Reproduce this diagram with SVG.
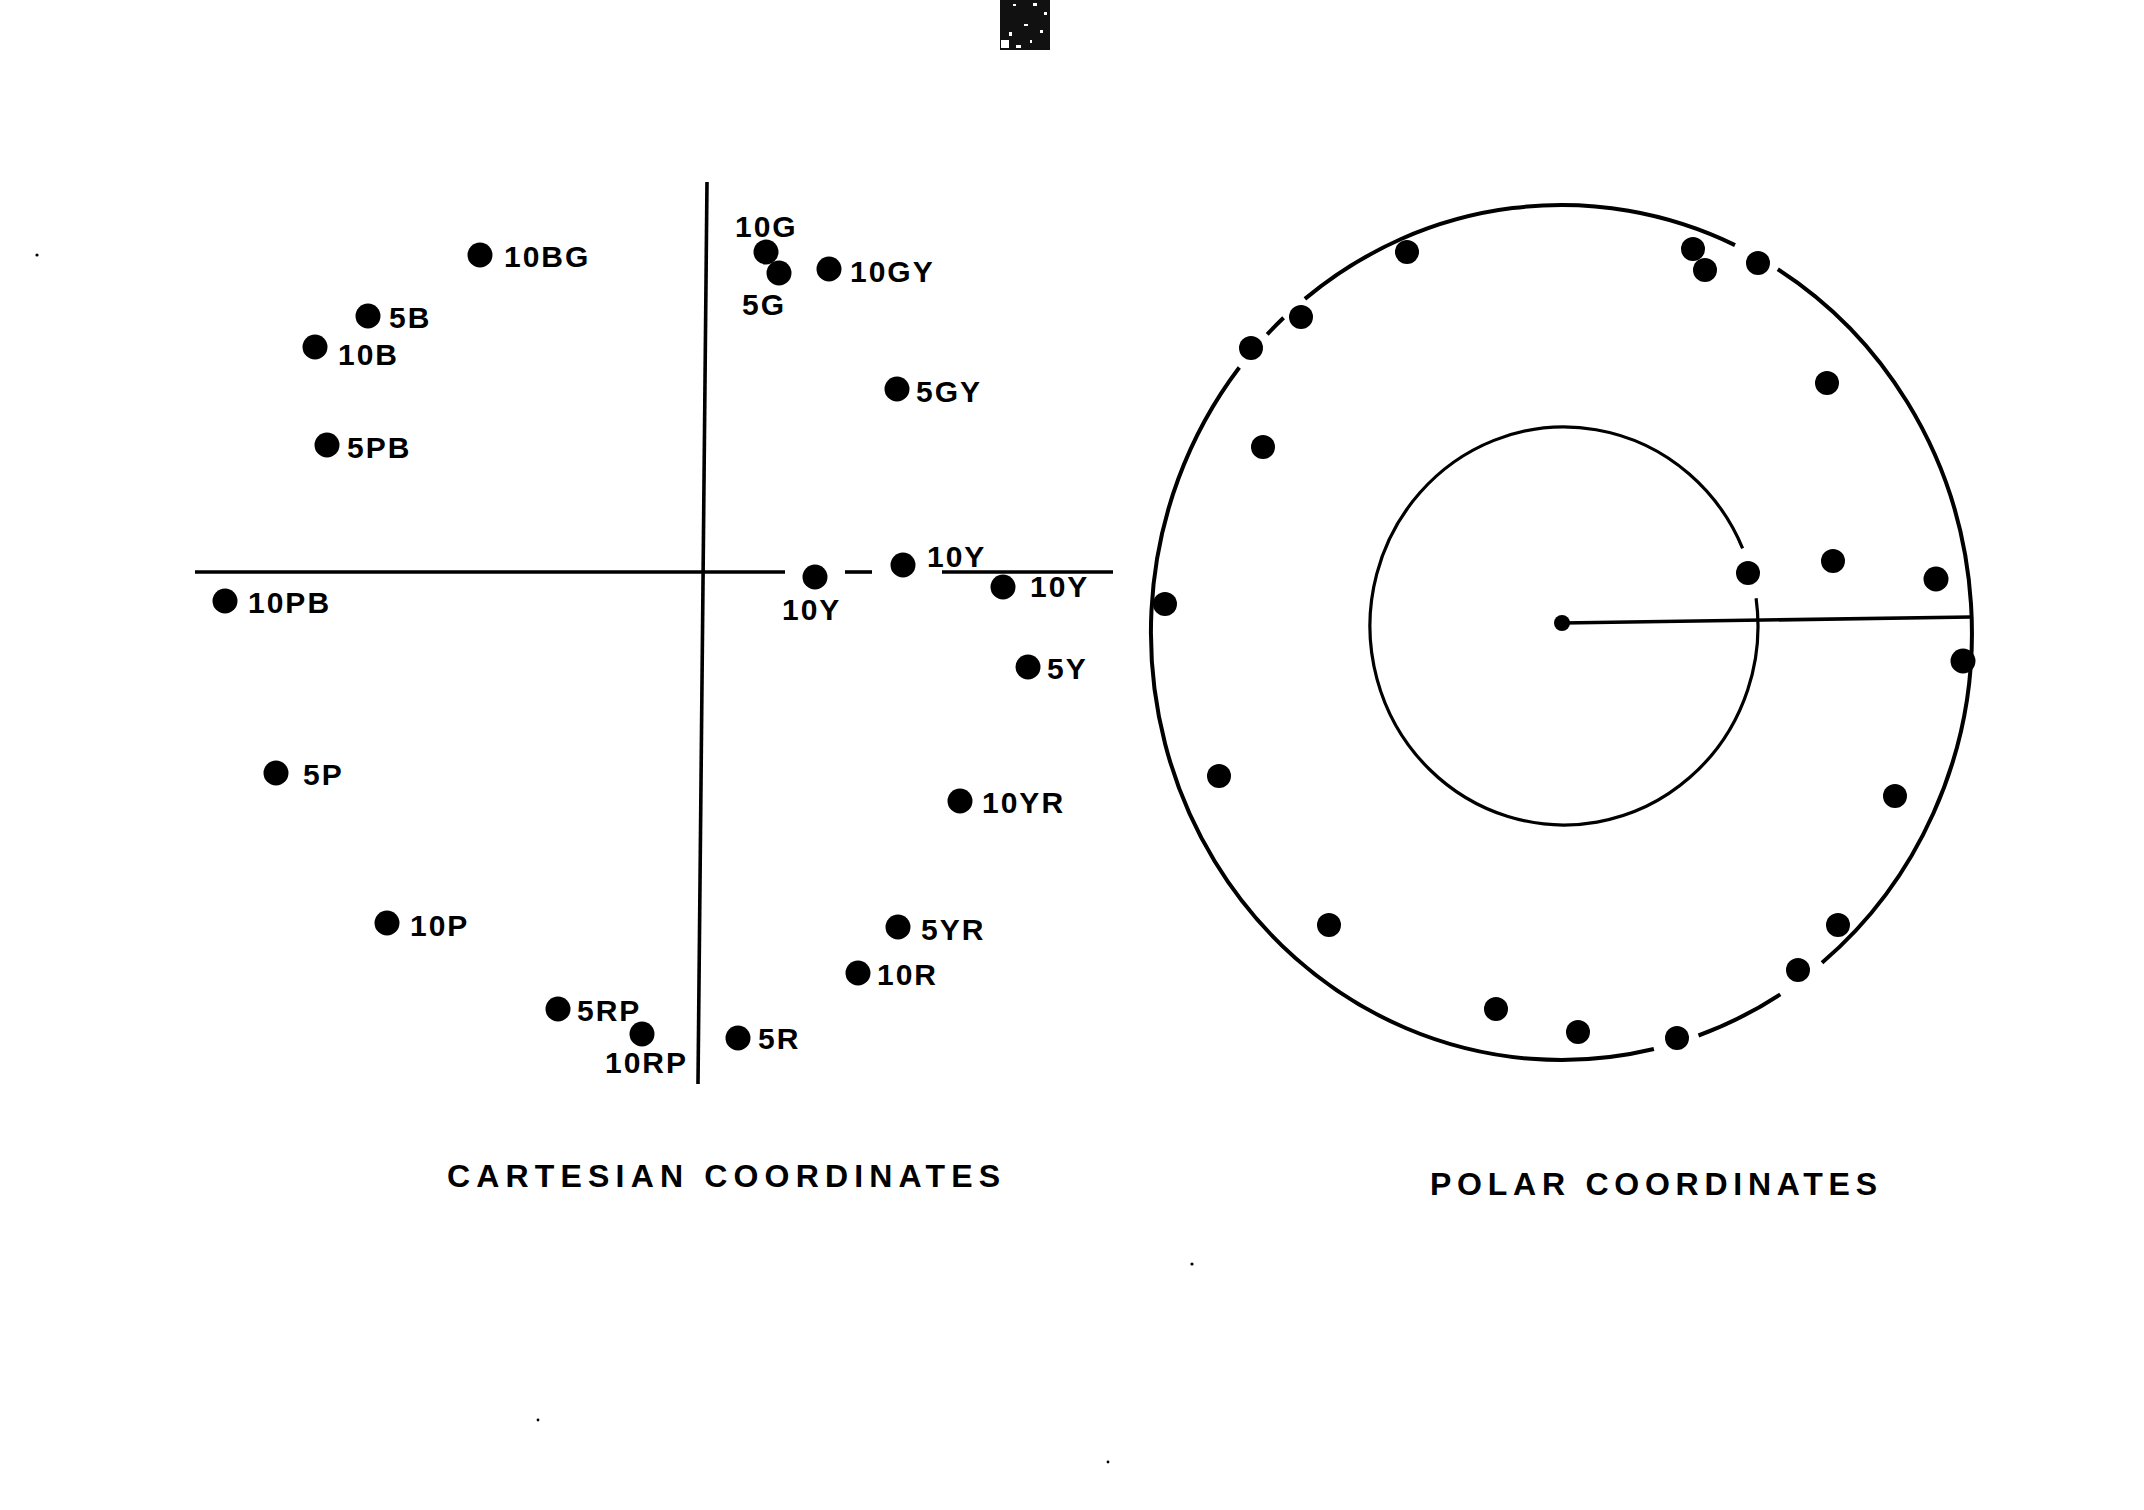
<svg xmlns="http://www.w3.org/2000/svg" width="2144" height="1510" viewBox="0 0 2144 1510">
<style>
  .bg { fill: #ffffff; }
  .ax { stroke: #000; stroke-width: 3.6; fill: none; stroke-linecap: butt; }
  .ring { stroke: #000; stroke-width: 4; fill: none; }
  .ring2 { stroke: #000; stroke-width: 3.2; fill: none; }
  .dot { fill: #000; }
  .lbl { font-family: "Liberation Sans", Arial, sans-serif; font-weight: bold; font-size: 30px; letter-spacing: 2px; fill: #000; }
  .title { font-family: "Liberation Sans", Arial, sans-serif; font-weight: bold; font-size: 32px; fill: #000; }
  .speck { fill: #000; }
</style>
<rect class="bg" x="0" y="0" width="2144" height="1510"/>

<!-- scan artifact at top -->
<g id="artifact">
  <rect x="1000" y="0" width="50" height="50" fill="#111"/>
  <rect x="1013" y="4" width="3" height="2" fill="#fff"/>
  <rect x="1033" y="3" width="4" height="3" fill="#fff"/>
  <rect x="1044" y="12" width="3" height="3" fill="#fff"/>
  <rect x="1024" y="24" width="4" height="2" fill="#fff"/>
  <rect x="1009" y="32" width="3" height="4" fill="#fff"/>
  <rect x="1040" y="30" width="3" height="3" fill="#fff"/>
  <rect x="1001" y="40" width="8" height="8" fill="#fff"/>
  <rect x="1030" y="40" width="2" height="3" fill="#fff"/>
  <rect x="1016" y="45" width="5" height="3" fill="#fff"/>
  <circle class="speck" cx="37" cy="255" r="1.6"/>
  <circle class="speck" cx="1192" cy="1264" r="1.6"/>
  <circle class="speck" cx="538" cy="1420" r="1.4"/>
  <circle class="speck" cx="1108" cy="1462" r="1.4"/>
</g>

<!-- Cartesian axes -->
<g id="connectors">
  <line class="ax" x1="707" y1="182" x2="698" y2="1084"/>
  <line class="ax" x1="195" y1="572" x2="785" y2="572"/>
  <line class="ax" x1="845" y1="572" x2="872" y2="572"/>
  <line class="ax" x1="942" y1="572" x2="1113" y2="572"/>
</g>

<!-- Cartesian points -->
<g id="p-10BG"><circle class="dot" cx="480" cy="255" r="12.5"/><text class="lbl" x="504" y="267">10BG</text></g>
<g id="p-5B"><circle class="dot" cx="368" cy="316" r="12.5"/><text class="lbl" x="389" y="328">5B</text></g>
<g id="p-10B"><circle class="dot" cx="315" cy="347" r="12.5"/><text class="lbl" x="338" y="365">10B</text></g>
<g id="p-5PB"><circle class="dot" cx="327" cy="445" r="12.5"/><text class="lbl" x="347" y="458">5PB</text></g>
<g id="p-10PB"><circle class="dot" cx="225" cy="601" r="12.5"/><text class="lbl" x="248" y="613">10PB</text></g>
<g id="p-5P"><circle class="dot" cx="276" cy="773" r="12.5"/><text class="lbl" x="303" y="785">5P</text></g>
<g id="p-10P"><circle class="dot" cx="387" cy="923" r="12.5"/><text class="lbl" x="410" y="936">10P</text></g>
<g id="p-5RP"><circle class="dot" cx="558" cy="1009" r="12.5"/><text class="lbl" x="577" y="1021">5RP</text></g>
<g id="p-10RP"><circle class="dot" cx="642" cy="1034" r="12.5"/><text class="lbl" x="605" y="1073">10RP</text></g>
<g id="p-10G"><circle class="dot" cx="766" cy="252" r="12.5"/><text class="lbl" x="735" y="237">10G</text></g>
<g id="p-5G"><circle class="dot" cx="779" cy="273" r="12.5"/><text class="lbl" x="742" y="315">5G</text></g>
<g id="p-10GY"><circle class="dot" cx="829" cy="269" r="12.5"/><text class="lbl" x="850" y="282">10GY</text></g>
<g id="p-5GY"><circle class="dot" cx="897" cy="389" r="12.5"/><text class="lbl" x="916" y="402">5GY</text></g>
<g id="p-10Y-a"><circle class="dot" cx="815" cy="577" r="12.5"/><text class="lbl" x="782" y="620">10Y</text></g>
<g id="p-10Y-b"><circle class="dot" cx="903" cy="565" r="12.5"/><text class="lbl" x="927" y="567">10Y</text></g>
<g id="p-10Y-c"><circle class="dot" cx="1003" cy="587" r="12.5"/><text class="lbl" x="1030" y="597">10Y</text></g>
<g id="p-5Y"><circle class="dot" cx="1028" cy="667" r="12.5"/><text class="lbl" x="1047" y="679">5Y</text></g>
<g id="p-10YR"><circle class="dot" cx="960" cy="801" r="12.5"/><text class="lbl" x="982" y="813">10YR</text></g>
<g id="p-5YR"><circle class="dot" cx="898" cy="927" r="12.5"/><text class="lbl" x="921" y="940">5YR</text></g>
<g id="p-10R"><circle class="dot" cx="858" cy="973" r="12.5"/><text class="lbl" x="877" y="985">10R</text></g>
<g id="p-5R"><circle class="dot" cx="738" cy="1038" r="12.5"/><text class="lbl" x="758" y="1049">5R</text></g>

<!-- Polar diagram -->
<g id="polar-rings">
  <path class="ring" d="M1304.9,298.9 A410.5,427.5 0 0 1 1735.0,245.1"/>
  <path class="ring" d="M1777.8,269.2 A410.5,427.5 0 0 1 1822.0,962.8"/>
  <path class="ring" d="M1780.3,994.3 A410.5,427.5 0 0 1 1698.5,1035.5"/>
  <path class="ring" d="M1653.9,1049.0 A410.5,427.5 0 0 1 1239.3,367.5"/>
  <path class="ring" d="M1267.2,334.4 A410.5,427.5 0 0 1 1283.6,317.8"/>
  <path class="ring2" d="M1756.1,598.3 A194,199 0 1 1 1742.6,548.3"/>
  <line class="ax" x1="1562" y1="623" x2="1971" y2="617"/>
  <circle class="dot" cx="1562" cy="623" r="8"/>
</g>
<g id="polar-points">
  <circle class="dot" cx="1251" cy="348" r="12"/>
  <circle class="dot" cx="1301" cy="317" r="12"/>
  <circle class="dot" cx="1407" cy="252" r="12"/>
  <circle class="dot" cx="1263" cy="447" r="12"/>
  <circle class="dot" cx="1165" cy="604" r="12"/>
  <circle class="dot" cx="1693" cy="249" r="12"/>
  <circle class="dot" cx="1705" cy="270" r="12"/>
  <circle class="dot" cx="1758" cy="263" r="12"/>
  <circle class="dot" cx="1827" cy="383" r="12"/>
  <circle class="dot" cx="1748" cy="573" r="12"/>
  <circle class="dot" cx="1833" cy="561" r="12"/>
  <circle class="dot" cx="1936" cy="579" r="12.5"/>
  <circle class="dot" cx="1963" cy="661" r="12.5"/>
  <circle class="dot" cx="1895" cy="796" r="12"/>
  <circle class="dot" cx="1838" cy="925" r="12"/>
  <circle class="dot" cx="1798" cy="970" r="12"/>
  <circle class="dot" cx="1677" cy="1038" r="12"/>
  <circle class="dot" cx="1578" cy="1032" r="12"/>
  <circle class="dot" cx="1219" cy="776" r="12"/>
  <circle class="dot" cx="1329" cy="925" r="12"/>
  <circle class="dot" cx="1496" cy="1009" r="12"/>
</g>

<g id="titles">
  <text class="title" x="447" y="1187" textLength="553" lengthAdjust="spacing">CARTESIAN  COORDINATES</text>
  <text class="title" x="1430" y="1195" textLength="447" lengthAdjust="spacing">POLAR  COORDINATES</text>
</g>
</svg>
